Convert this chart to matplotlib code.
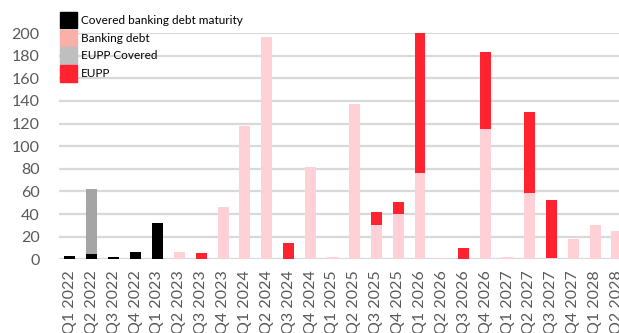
import matplotlib
matplotlib.use('Agg')
import matplotlib.pyplot as plt
from matplotlib.patches import Patch
import numpy as np

plt.rcParams['font.family'] = ['Lato', 'DejaVu Sans']

quarters = ['Q1 2022', 'Q2 2022', 'Q3 2022', 'Q4 2022',
            'Q1 2023', 'Q2 2023', 'Q3 2023', 'Q4 2023',
            'Q1 2024', 'Q2 2024', 'Q3 2024', 'Q4 2024',
            'Q1 2025', 'Q2 2025', 'Q3 2025', 'Q4 2025',
            'Q1 2026', 'Q2 2026', 'Q3 2026', 'Q4 2026',
            'Q1 2027', 'Q2 2027', 'Q3 2027', 'Q4 2027',
            'Q1 2028', 'Q2 2028']

covered_banking = [3, 5, 2, 6.5, 32.5, 0, 0, 0, 0, 0, 0, 0, 0, 0,
                   0, 0, 0, 0, 0, 0, 0, 0, 0, 0, 0, 0]
banking = [0, 0, 0, 0, 0, 6.5, 0, 46.5, 117.5, 196.5, 0, 82, 2.3, 137.5,
           30.5, 40, 76, 1.5, 0, 115.5, 2.3, 58.5, 1, 18, 30, 25]
eupp_covered = [0, 57, 0, 0, 0, 0, 0, 0, 0, 0, 0, 0, 0, 0,
                0, 0, 0, 0, 0, 0, 0, 0, 0, 0, 0, 0]
eupp = [0, 0, 0, 0, 0, 0, 5.3, 0, 0, 0, 14.5, 0, 0, 0,
        11, 11, 135, 0, 10, 68, 0, 71.5, 51.5, 0, 0, 0]

fig = plt.figure(figsize=(6.19, 3.33), dpi=100)
ax = fig.add_axes([0.0953, 0.2213, 0.919, 0.6796])

a = np.arange(len(quarters))
width = 0.5
c1 = np.array(covered_banking)
c2 = np.array(banking)
c3 = np.array(eupp_covered)
c4 = np.array(eupp)
ax.bar(a, c1, width, color='#000000', zorder=3)
ax.bar(a, c2, width, bottom=c1, color='#FFD1D6', zorder=3)
ax.bar(a, c3, width, bottom=c1 + c2, color='#A5A5A5', zorder=3)
ax.bar(a, c4, width, bottom=c1 + c2 + c3, color='#FF2330', zorder=3)

ax.set_ylim(0, 200)
ax.set_xlim(-0.5, len(quarters) - 0.5)
ax.set_yticks(range(0, 201, 20))
ax.yaxis.grid(True, color='#D9D9D9', linewidth=1.6, zorder=0)
ax.set_axisbelow(True)
for s in ax.spines.values():
    s.set_visible(False)
ax.set_xticks(a)
ax.set_xticklabels(quarters, rotation=90)
ax.tick_params(axis='both', length=0, labelsize=11.5, colors='#595959')
ax.tick_params(axis='y', pad=14)
ax.tick_params(axis='x', pad=8)

handles = [Patch(color='#000000'), Patch(color='#F8B0A8'),
           Patch(color='#BFBFBF'), Patch(color='#FF2330')]
labels = ['Covered banking debt maturity', 'Banking debt', 'EUPP Covered', 'EUPP']
fig.legend(handles, labels, loc='upper left', bbox_to_anchor=(60 / 619, 1 - 12 / 333),
           frameon=False, fontsize=8.5, borderpad=0, borderaxespad=0,
           labelspacing=0.12, handlelength=1.45, handleheight=1.75, handletextpad=0.3)

fig.savefig('out.png', dpi=100)
